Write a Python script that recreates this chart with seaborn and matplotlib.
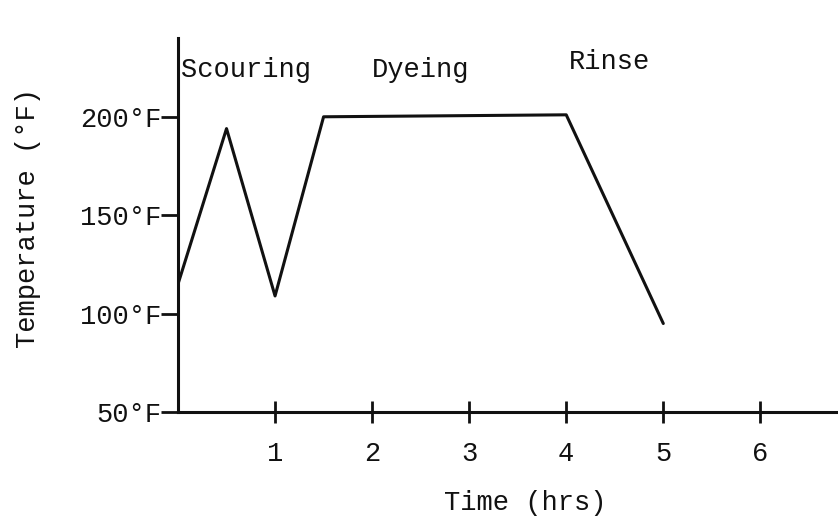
import pandas as pd
import matplotlib
matplotlib.use("Agg")
import matplotlib.pyplot as plt
import seaborn as sns

# Дані: температурний режим процесу (год, °F)
time_hrs = [0, 0.5, 1, 1.5, 4, 5]
temp_f = [115, 194, 109, 200, 201, 95]

phase_names = ['Scouring', 'Dyeing', 'Rinse']
phase_x = [0.03, 2.0, 4.03]
phase_y = [224, 224, 228]

y_ticks = [50, 100, 150, 200]
y_tick_labels = ['50°F', '100°F', '150°F', '200°F']
x_ticks = [1, 2, 3, 4, 5, 6]

sns.set_style('white')
plt.rcParams['font.family'] = ['Liberation Mono', 'DejaVu Sans Mono']

df = pd.DataFrame({'Time': time_hrs, 'Temp': temp_f})

fig = plt.figure(figsize=(8.38, 5.21), dpi=100)
ax = fig.add_axes([0.2124, 0.209, 0.7876, 0.718])

sns.lineplot(data=df, x='Time', y='Temp', color='#111111', linewidth=2.2, ax=ax)

ax.set_xlim(0, 6.8)
ax.set_ylim(50, 240)

for side in ['top', 'right']:
    ax.spines[side].set_visible(False)
for side in ['left', 'bottom']:
    ax.spines[side].set_color('#111111')
    ax.spines[side].set_linewidth(2.2)

fs = 19.5
ax.set_yticks(y_ticks)
ax.set_yticklabels(y_tick_labels)
ax.set_xticks(x_ticks)
ax.set_xticklabels([str(t) for t in x_ticks])
ax.tick_params(axis='y', direction='out', length=12, width=2, pad=0,
               labelsize=fs, colors='#111111', left=True)
ax.tick_params(axis='x', direction='inout', length=16, width=2, pad=13,
               labelsize=fs, colors='#111111', bottom=True)
ax.set_xlabel('')
ax.set_ylabel('')

for name, px, py in zip(phase_names, phase_x, phase_y):
    ax.text(px, py, name, ha='left', va='center', fontsize=fs, color='#111111')

fig.text(28 / 838, 1 - 218 / 521, 'Temperature (°F)', rotation=90,
         ha='center', va='center', fontsize=fs, color='#111111')
fig.text(525 / 838, 1 - 503 / 521, 'Time (hrs)',
         ha='center', va='center', fontsize=fs, color='#111111')

fig.savefig('out.png', dpi=100)
